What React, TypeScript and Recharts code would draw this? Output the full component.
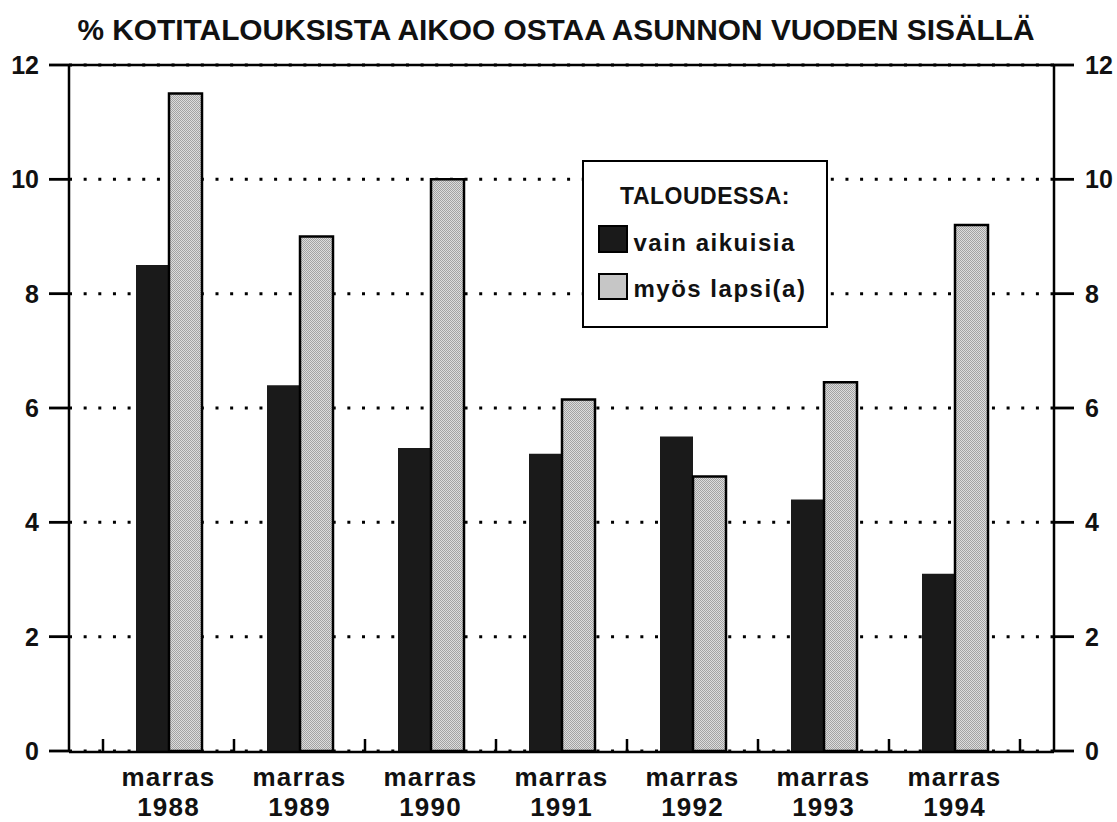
import React from 'react';
import { BarChart, Bar, XAxis, YAxis, CartesianGrid, ReferenceLine, Legend } from 'recharts';

const title = '% KOTITALOUKSISTA AIKOO OSTAA ASUNNON VUODEN SISÄLLÄ';
const categories = ['1988', '1989', '1990', '1991', '1992', '1993', '1994'];
const monthLabel = 'marras';
const adultsOnly = [8.5, 6.4, 5.3, 5.2, 5.5, 4.4, 3.1];
const withChildren = [11.5, 9.0, 10.0, 6.15, 4.8, 6.45, 9.2];
const seriesNames = ['vain aikuisia', 'myös lapsi(a)'];
const legendTitle = 'TALOUDESSA:';
const yTicks = [0, 2, 4, 6, 8, 10, 12];
const boundaryTicks = [-0.5, 0.5, 1.5, 2.5, 3.5, 4.5, 5.5, 6.5];

const data = categories.map((c, i) => ({ year: c, idx: i, a: adultsOnly[i], b: withChildren[i] }));

const FONT = '"Liberation Sans", Arial, Helvetica, sans-serif';
const INK = '#111';
const DARK = '#1a1a1a';
const LIGHT = '#c6c6c6';
const TICK_W = 2.5;

const XTick = (props: any) => {
  const { x, y, payload } = props;
  return (
    <text x={x} y={y} textAnchor="middle" fontFamily={FONT} fontWeight={700} fontSize={26} letterSpacing={1.2} fill={INK}>
      <tspan x={x} dy={34}>{monthLabel}</tspan>
      <tspan x={x} dy={30}>{payload.value}</tspan>
    </text>
  );
};

const BoundTick = (props: any) => {
  const { x, y } = props;
  return <line x1={x} x2={x} y1={y + 1} y2={y - 12} stroke="#000" strokeWidth={TICK_W} />;
};

const LeftYTick = (props: any) => {
  const { x, y, payload } = props;
  return (
    <g>
      <rect x={x + 10} y={y - 1.4} width={20} height={2.8} fill="#000" />
      <text x={x} y={y} dy="0.355em" textAnchor="end" fontFamily={FONT} fontWeight={700} fontSize={25} fill={INK}>
        {payload.value}
      </text>
    </g>
  );
};

const RightYTick = (props: any) => {
  const { x, y, payload } = props;
  return (
    <g>
      <rect x={x - 32} y={y - 1.4} width={21} height={2.8} fill="#000" />
      <text x={x} y={y} dy="0.355em" textAnchor="start" fontFamily={FONT} fontWeight={700} fontSize={25} fill={INK}>
        {payload.value}
      </text>
    </g>
  );
};

const renderLegend = (props: any) => {
  const payload = props.payload || [];
  const items = seriesNames.map((n) => payload.find((p: any) => p.value === n) || { value: n });
  return (
    <div
      style={{
        width: 246,
        height: 168,
        boxSizing: 'border-box',
        border: '2.5px solid #000',
        background: '#fff',
        position: 'relative',
        fontFamily: FONT,
        fontWeight: 700,
        color: INK,
      }}
    >
      <div style={{ position: 'absolute', left: 0, top: 23, width: '100%', textAlign: 'center', fontSize: 23, lineHeight: 1, letterSpacing: 0.5 }}>
        {legendTitle}
      </div>
      {items.map((p: any, i: number) => (
        <React.Fragment key={i}>
          <div
            style={{
              position: 'absolute',
              left: 13.5,
              top: i === 0 ? 62.5 : 110.5,
              width: 30,
              height: i === 0 ? 28 : 27,
              boxSizing: 'border-box',
              background: i === 0 ? DARK : LIGHT,
              border: '2px solid #000',
            }}
          />
          <div
            style={{
              position: 'absolute',
              left: 49.5,
              top: i === 0 ? 69 : 115,
              fontSize: 24,
              lineHeight: 1,
              letterSpacing: 1.5,
              whiteSpace: 'nowrap',
            }}
          >
            {p.value}
          </div>
        </React.Fragment>
      ))}
    </div>
  );
};

export default function App() {
  return (
    <div style={{ position: 'absolute', left: 0, top: 0, background: '#fff' }}>
      <BarChart
        width={1117}
        height={822}
        data={data}
        margin={{ top: 65, right: 0, left: 0, bottom: 0 }}
        barGap={0}
        barSize={33}
      >
        <defs>
          <pattern id="stipple" width="2" height="2" patternUnits="userSpaceOnUse">
            <rect width="2" height="2" fill="#dcdcdc" />
            <rect x="0" y="0" width="1" height="1" fill="#a2a2a2" />
            <rect x="1" y="1" width="1" height="1" fill="#a2a2a2" />
          </pattern>
        </defs>
        <text x={556} y={40} textAnchor="middle" fontFamily={FONT} fontWeight={700} fontSize={29} fill={INK} textLength={957} lengthAdjust="spacingAndGlyphs">
          {title}
        </text>
        <XAxis
          xAxisId="bnd"
          dataKey="idx"
          type="number"
          domain={[-0.5, 6.5]}
          allowDataOverflow
          ticks={boundaryTicks}
          interval={0}
          height={1}
          tick={<BoundTick />}
          tickSize={0}
          tickMargin={0}
          tickLine={false}
          axisLine={false}
          padding={{ left: 34, right: 34 }}
        />
        <XAxis
          xAxisId="cat"
          dataKey="year"
          height={70}
          interval={0}
          tickSize={0}
          tickMargin={0}
          tickLine={false}
          tick={<XTick />}
          axisLine={{ stroke: '#000', strokeWidth: 2.5 }}
          padding={{ left: 34, right: 34 }}
        />
        <YAxis
          yAxisId="left"
          orientation="left"
          width={69}
          domain={[0, 12]}
          allowDataOverflow
          ticks={yTicks}
          interval={0}
          tickSize={19}
          tickMargin={11}
          tick={<LeftYTick />}
          tickLine={false}
          axisLine={{ stroke: '#000', strokeWidth: 2.5 }}
        />
        <YAxis
          yAxisId="right"
          orientation="right"
          width={63}
          domain={[0, 12]}
          allowDataOverflow
          ticks={yTicks}
          interval={0}
          tickSize={19}
          tickMargin={12}
          tick={<RightYTick />}
          tickLine={false}
          axisLine={{ stroke: '#000', strokeWidth: 2.5 }}
        />
        <CartesianGrid
          xAxisId="cat"
          yAxisId="left"
          vertical={false}
          stroke="#000"
          strokeWidth={3}
          strokeDasharray="3 11.65"
        />
        <ReferenceLine xAxisId="cat" yAxisId="left" y={12} stroke="#000" strokeWidth={2.5} />
        <Bar xAxisId="cat" yAxisId="left" dataKey="a" name={seriesNames[0]} fill={DARK} isAnimationActive={false} />
        <Bar
          xAxisId="cat"
          yAxisId="left"
          dataKey="b"
          name={seriesNames[1]}
          fill="url(#stipple)"
          stroke="#000"
          strokeWidth={2.5}
          isAnimationActive={false}
        />
        <Legend
          layout="horizontal"
          verticalAlign="middle"
          align="center"
          content={renderLegend}
          wrapperStyle={{ position: 'absolute', left: 582, top: 160, width: 246, height: 168 }}
        />
      </BarChart>
    </div>
  );
}
